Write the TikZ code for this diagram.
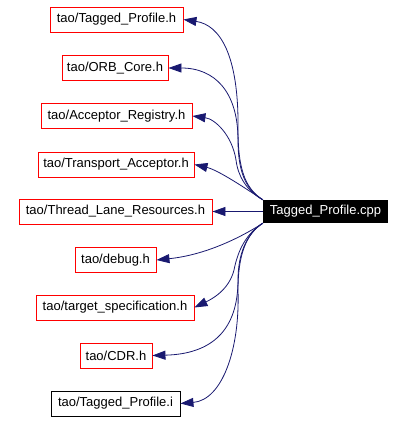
\documentclass[tikz,border=0pt]{standalone}
\usepackage{fontspec}
\setmainfont{Liberation Sans}
\usetikzlibrary{arrows.meta}
\definecolor{edgeblue}{HTML}{191970}
\begin{document}
\begin{tikzpicture}[x=1pt,y=-1pt,
  hbox/.style={draw=red,line width=0.9pt,minimum height=25pt,inner sep=0pt,font=\fontsize{13}{15}\selectfont},
  ibox/.style={draw=black,line width=0.9pt,minimum height=25pt,inner sep=0pt,font=\fontsize{13}{15}\selectfont},
  mainbox/.style={fill=black,text=white,minimum height=23pt,inner sep=0pt,font=\fontsize{13}{15}\selectfont},
  dep/.style={draw=edgeblue,line width=0.8pt,-{Stealth[length=13pt,width=9pt,inset=0pt]}}]
\useasboundingbox (0,0) rectangle (406,422);
\node[hbox,minimum width=133pt] (tph) at (116.5,19.5) {tao/Tagged\_Profile.h};
\node[hbox,minimum width=106pt] (orb) at (115,68) {tao/ORB\_Core.h};
\node[hbox,minimum width=151pt] (acc) at (116.5,116) {tao/Acceptor\_Registry.h};
\node[hbox,minimum width=156pt] (tra) at (116,164.5) {tao/Transport\_Acceptor.h};
\node[hbox,minimum width=193pt] (thr) at (115.5,211.5) {tao/Thread\_Lane\_Resources.h};
\node[mainbox,minimum width=125pt] (cpp) at (325.5,211.5) {Tagged\_Profile.cpp};
\node[hbox,minimum width=81pt] (dbg) at (115.5,260) {tao/debug.h};
\node[hbox,minimum width=158pt] (tgt) at (115,307.5) {tao/target\_specification.h};
\node[hbox,minimum width=72pt] (cdr) at (116,355.5) {tao/CDR.h};
\node[ibox,minimum width=129pt] (tpi) at (115.5,403.5) {tao/Tagged\_Profile.i};

\draw[dep] (cpp.north west) .. controls (248,190) and (238,175) .. (238,130) .. controls (239,55) and (220,25) .. (tph.east);
\draw[dep] (cpp.north west) .. controls (246,190) and (238,172) .. (238,140) .. controls (238,92) and (215,68) .. (orb.east);
\draw[dep] (cpp.north west) .. controls (246,190) and (238,176) .. (236,160) .. controls (232,135) and (215,119) .. (acc.east);
\draw[dep] (cpp.north west) .. controls (245,188) and (218,170) .. (tra.east);
\draw[dep] (cpp.west) -- (thr.east);
\draw[dep] (cpp.south west) .. controls (240,238) and (205,255) .. (dbg.east);
\draw[dep] (cpp.south west) .. controls (246,234) and (238,250) .. (234,270) .. controls (229,290) and (212,299) .. (tgt.east);
\draw[dep] (cpp.south west) .. controls (246,234) and (238,255) .. (238,280) .. controls (238,330) and (212,354) .. (cdr.east);
\draw[dep] (cpp.south west) .. controls (246,234) and (238,255) .. (238,290) .. controls (240,350) and (222,400) .. (tpi.east);
\end{tikzpicture}
\end{document}
